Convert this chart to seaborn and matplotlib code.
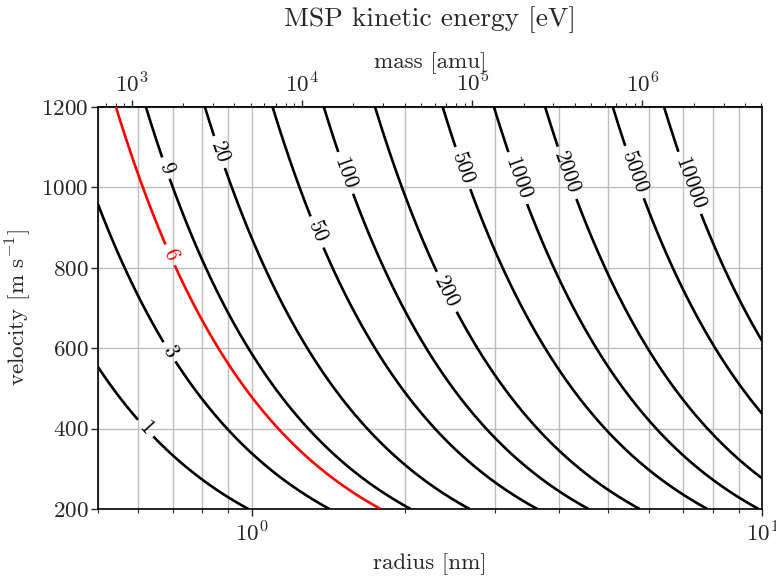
import numpy as np
import matplotlib
matplotlib.use("Agg")
import matplotlib.pyplot as plt
import seaborn as sns
from matplotlib.ticker import LogLocator, NullFormatter, LogFormatterMathtext

# contour levels of kinetic energy [eV]
levels = [1, 3, 6, 9, 20, 50, 100, 200, 500, 1000, 2000, 5000, 10000]
highlight_level = 6
# velocity [m/s] at which each contour is labelled
label_velocity = [401, 591, 832, 1048, 1088, 889, 1036, 740, 1048, 1023, 1036, 1038, 1011]

radius_range = [0.5, 10.0]       # nm
velocity_range = [200.0, 1200.0]  # m/s
velocity_ticks = [200, 400, 600, 800, 1000, 1200]

rho = 2000.0            # particle density [kg m^-3]
amu = 1.66054e-27       # kg
eV = 1.602177e-19       # J

sns.set_theme(style="ticks")
plt.rcParams.update({
    "font.family": ["cmr10", "DejaVu Serif"],
    "mathtext.fontset": "cm",
    "axes.unicode_minus": False,
    "axes.formatter.use_mathtext": True,
    "font.size": 16.6,
    "xtick.direction": "out",
    "ytick.direction": "out",
})


def mass_kg(r_nm):
    return 4.0 / 3.0 * np.pi * (r_nm * 1e-9) ** 3 * rho


def r2m(r_nm):
    r_nm = np.clip(np.asarray(r_nm, dtype=float), 1e-6, None)
    return mass_kg(r_nm) / amu


def m2r(m_amu):
    m_amu = np.clip(np.asarray(m_amu, dtype=float), 1e-6, None)
    return (m_amu * amu / (4.0 / 3.0 * np.pi * rho)) ** (1.0 / 3.0) * 1e9


r = np.logspace(np.log10(radius_range[0]), np.log10(radius_range[1]), 600)
v = np.linspace(velocity_range[0], velocity_range[1], 600)
R, V = np.meshgrid(r, v)
E = 0.5 * mass_kg(R) * V ** 2 / eV

fig = plt.figure(figsize=(7.76, 5.76), dpi=100)
ax = fig.add_axes([98 / 776, 1 - 509 / 576, (762 - 98) / 776, (509 - 107) / 576])

ax.set_xscale("log")
ax.set_xlim(*radius_range)
ax.set_ylim(*velocity_range)

ax.grid(True, which="major", color="#bdbdbd", linewidth=1.0)
ax.grid(True, which="minor", axis="x", color="#bdbdbd", linewidth=1.0)
ax.set_axisbelow(True)

colors = ["red" if lev == highlight_level else "black" for lev in levels]
cs = ax.contour(R, V, E, levels=levels, colors=colors, linewidths=1.9, zorder=3)

positions = []
for lev, vel in zip(levels, label_velocity):
    m = 2.0 * lev * eV / vel ** 2
    rr = (m / (4.0 / 3.0 * np.pi * rho)) ** (1.0 / 3.0) * 1e9
    positions.append((rr, vel))
ax.clabel(cs, levels=levels, inline=True, fmt="%d", fontsize=15.5,
          manual=positions, inline_spacing=6)

ax.set_yticks(velocity_ticks)
ax.xaxis.set_major_locator(LogLocator(base=10))
ax.xaxis.set_major_formatter(LogFormatterMathtext())
ax.xaxis.set_minor_locator(LogLocator(base=10, subs=np.arange(2, 10)))
ax.xaxis.set_minor_formatter(NullFormatter())
ax.tick_params(which="major", length=5, width=1.0, labelsize=16.6, pad=3)
ax.tick_params(axis="y", which="major", pad=2)
ax.tick_params(which="minor", length=3, width=0.8)

ax.set_xlabel("radius [nm]", fontsize=16.6, labelpad=6)
ax.set_ylabel(r"velocity [m s$^{-1}$]", fontsize=16.6, labelpad=5)

for sp in ax.spines.values():
    sp.set_linewidth(1.2)
    sp.set_color("black")

sec = ax.secondary_xaxis("top", functions=(r2m, m2r))
sec.xaxis.set_major_locator(LogLocator(base=10))
sec.xaxis.set_major_formatter(LogFormatterMathtext())
sec.xaxis.set_minor_locator(LogLocator(base=10, subs=np.arange(2, 10)))
sec.xaxis.set_minor_formatter(NullFormatter())
sec.tick_params(which="major", length=5, width=1.0, labelsize=16.6, direction="out")
sec.tick_params(which="minor", length=3, width=0.8, direction="out")
sec.set_xlabel("mass [amu]", fontsize=16.6, labelpad=2)

fig.text((98 + 762) / 2 / 776, 1 - 20 / 576, "MSP kinetic energy [eV]",
         ha="center", va="center", fontsize=19.7)

fig.savefig("out.png", dpi=100)
